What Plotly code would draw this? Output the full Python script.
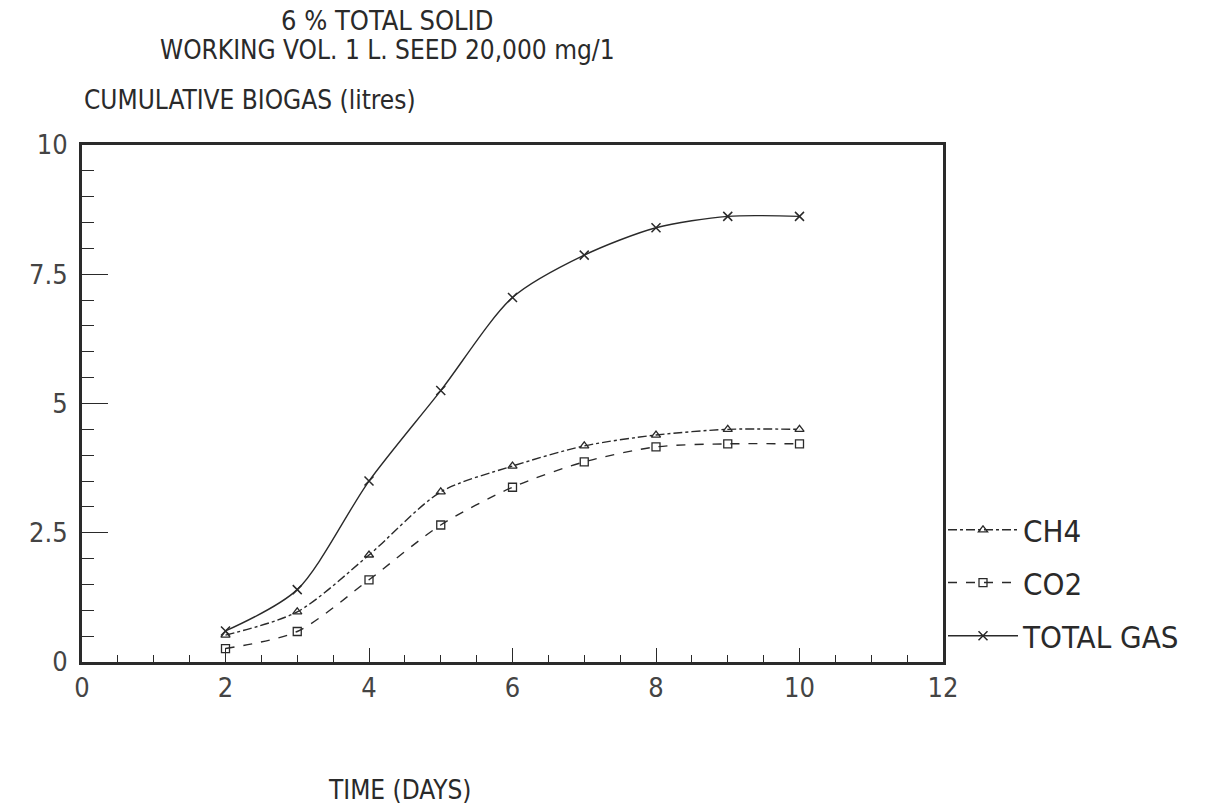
import plotly.graph_objects as go

# Cumulative biogas production, 6 % total solid digester
days = [2, 3, 4, 5, 6, 7, 8, 9, 10]
total_gas = [0.60, 1.40, 3.50, 5.25, 7.05, 7.87, 8.40, 8.62, 8.62]
ch4 = [0.52, 0.97, 2.07, 3.29, 3.79, 4.18, 4.39, 4.50, 4.50]
co2 = [0.26, 0.59, 1.59, 2.65, 3.38, 3.87, 4.16, 4.22, 4.22]

x_ticks = [0, 2, 4, 6, 8, 10, 12]
y_ticks = [0, 2.5, 5, 7.5, 10]
y_tick_text = ["0", "2.5", "5", "7.5", "10"]

INK = "#2a2a2a"
FONT = "Liberation Sans Narrow, DejaVu Sans Condensed, DejaVu Sans Mono, monospace"

fig = go.Figure()

fig.add_trace(go.Scatter(
    x=days, y=ch4, name="CH4", mode="lines+markers",
    line=dict(color=INK, width=1.4, dash="dashdot", shape="spline", smoothing=0.8),
    marker=dict(symbol="triangle-up-open", size=8, color=INK, line=dict(width=1.3, color=INK)),
    legend="legend",
))
fig.add_trace(go.Scatter(
    x=days, y=co2, name="CO2", mode="lines+markers",
    line=dict(color=INK, width=1.4, dash="dash", shape="spline", smoothing=0.8),
    marker=dict(symbol="square-open", size=8, color=INK, line=dict(width=1.3, color=INK)),
    legend="legend2",
))
fig.add_trace(go.Scatter(
    x=days, y=total_gas, name="TOTAL GAS", mode="lines+markers",
    line=dict(color=INK, width=1.4, shape="spline", smoothing=0.8),
    marker=dict(symbol="x-thin-open", size=9, color=INK, line=dict(width=1.5, color=INK)),
    legend="legend3",
))

legend_common = dict(
    x=1.0, xanchor="left", yanchor="middle",
    font=dict(family=FONT, size=31, color=INK),
    bgcolor="rgba(0,0,0,0)", borderwidth=0, itemwidth=70,
)

fig.update_layout(
    width=1217, height=805,
    margin=dict(l=82, r=274, t=145, b=143),
    paper_bgcolor="white", plot_bgcolor="white",
    font=dict(family=FONT, color=INK),
    showlegend=True,
    legend=dict(**legend_common, y=0.255),
    legend2=dict(**legend_common, y=0.153),
    legend3=dict(**legend_common, y=0.05),
    xaxis=dict(
        range=[0, 12], tickvals=x_ticks, ticks="inside", ticklen=14, tickwidth=1.3,
        tickcolor=INK, showgrid=False, zeroline=False,
        showline=True, linewidth=3, linecolor=INK, mirror=True,
        minor=dict(dtick=0.5, ticks="inside", ticklen=7, tickwidth=1.2, tickcolor=INK, showgrid=False),
        tickfont=dict(family=FONT, size=27, color="#444444"),
    ),
    yaxis=dict(
        range=[0, 10], tickvals=y_ticks, ticktext=y_tick_text, ticks="inside", ticklen=26,
        tickwidth=1.3, tickcolor=INK, showgrid=False, zeroline=False,
        showline=True, linewidth=3, linecolor=INK, mirror=True,
        minor=dict(dtick=0.5, ticks="inside", ticklen=12, tickwidth=1.2, tickcolor=INK, showgrid=False),
        tickfont=dict(family=FONT, size=27, color="#444444"),
        ticklabelstandoff=6,
    ),
    annotations=[
        dict(text="6 % TOTAL SOLID", xref="paper", yref="paper", x=(387 - 82) / 861, y=1.0,
             yshift=145 - 20, showarrow=False, xanchor="center", yanchor="middle",
             font=dict(family=FONT, size=27, color=INK)),
        dict(text="WORKING VOL. 1 L. SEED 20,000 mg/1", xref="paper", yref="paper",
             x=(387 - 82) / 861, y=1.0, yshift=145 - 50, showarrow=False,
             xanchor="center", yanchor="middle", font=dict(family=FONT, size=26, color=INK)),
        dict(text="CUMULATIVE BIOGAS (litres)", xref="paper", yref="paper", x=0, y=1.0,
             yshift=145 - 100, showarrow=False, xanchor="left", yanchor="middle",
             font=dict(family=FONT, size=26, color=INK)),
        dict(text="TIME (DAYS)", xref="paper", yref="paper", x=(400 - 82) / 861, y=0,
             yshift=-(790 - 662), showarrow=False, xanchor="center", yanchor="middle",
             font=dict(family=FONT, size=26, color=INK)),
    ],
)

fig.write_html("out.html")
